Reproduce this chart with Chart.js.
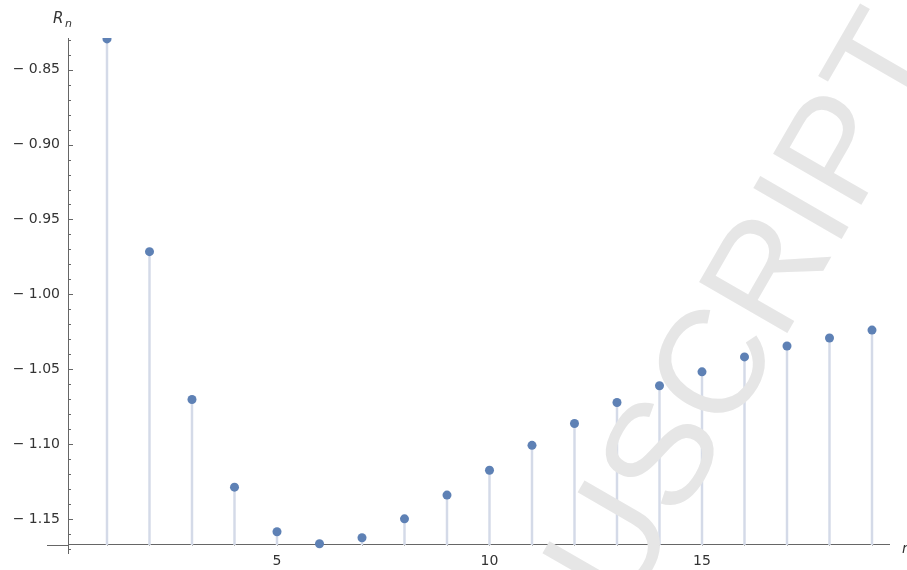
<!DOCTYPE html>
<html>
<head>
<meta charset="utf-8">
<script src="https://cdn.jsdelivr.net/npm/chart.js@4.4.0/dist/chart.umd.min.js"></script>
<style>
  html, body { margin: 0; padding: 0; background: #fff; }
  #chartBox { width: 907px; height: 570px; }
</style>
</head>
<body>
<div id="chartBox"><canvas id="myChart" width="907" height="570"></canvas></div>
<script>
// data
var nValues = [1, 2, 3, 4, 5, 6, 7, 8, 9, 10, 11, 12, 13, 14, 15, 16, 17, 18, 19];
var rValues = [-0.8294, -0.9715, -1.0703, -1.1288, -1.1586, -1.1666, -1.1626, -1.1500, -1.1341, -1.1175,
               -1.1009, -1.0863, -1.0723, -1.0611, -1.0518, -1.0418, -1.0345, -1.0292, -1.0239];
var xTicks = [5, 10, 15];
var yTicks = [-1.15, -1.10, -1.05, -1.00, -0.95, -0.90, -0.85];
var axisLevel = -1.1673; // where the n axis crosses

var axisColor = '#666666';
var labelColor = '#333333';
var tickFont = { family: 'DejaVu Sans', size: 14 };

var stemData = nValues.map(function (n, i) { return { x: n, y: [axisLevel, rValues[i]] }; });
var pointData = nValues.map(function (n, i) { return { x: n, y: rValues[i] }; });

// inward ticks, axis stub, axis labels
var axesExtra = {
  id: 'axesExtra',
  beforeDatasetsDraw: function (chart) {
    var ctx = chart.ctx;
    var xs = chart.scales.x, ys = chart.scales.y;
    var y0 = Math.round(ys.getPixelForValue(axisLevel)) + 0.5;
    var x0 = Math.round(xs.left) + 0.5;
    ctx.save();
    ctx.strokeStyle = axisColor;
    ctx.lineWidth = 1;
    ctx.beginPath();
    ctx.moveTo(47, y0);
    ctx.lineTo(x0, y0);
    for (var k = -117; k <= -83; k++) {
      var py = Math.round(ys.getPixelForValue(k / 100)) + 0.5;
      var len = (k % 5 === 0) ? 4.5 : 2.5;
      ctx.moveTo(x0, py);
      ctx.lineTo(x0 + len, py);
    }
    for (var n = 1; n <= 19; n++) {
      var px = Math.round(xs.getPixelForValue(n)) + 0.5;
      var l2 = (n % 5 === 0) ? 5 : 3;
      ctx.moveTo(px, y0);
      ctx.lineTo(px, y0 - l2);
    }
    ctx.stroke();

    ctx.fillStyle = labelColor;
    ctx.textBaseline = 'alphabetic';
    ctx.textAlign = 'left';
    ctx.font = 'italic 15px "DejaVu Sans"';
    ctx.fillText('R', 53, 23);
    ctx.font = 'italic 11px "DejaVu Sans"';
    ctx.fillText('n', 65, 27);
    ctx.font = 'italic 14px "DejaVu Sans"';
    ctx.fillText('n', 902, 553);
    ctx.restore();
  },
  afterDatasetDraw: function (chart, args) {
    if (args.index !== 0) return;
    // watermark sits over the stems and axes, under the points
    var ctx = chart.ctx;
    var fs = 148;
    var text = 'ACCEPTED MANUSCRIPT';
    ctx.save();
    ctx.font = fs + 'px "Liberation Sans"';
    var wPrefix = ctx.measureText('ACCEPTED MANUSCR').width;
    ctx.translate(845, 233);
    ctx.rotate(-60 * Math.PI / 180);
    ctx.fillStyle = '#e6e6e6';
    ctx.textAlign = 'left';
    ctx.textBaseline = 'alphabetic';
    ctx.fillText(text, -(wPrefix + 0.139 * fs), 0);
    ctx.restore();
  }
};

var config = {
  type: 'scatter',
  data: {
    datasets: [
      {
        type: 'bar',
        label: 'stems',
        data: stemData,
        backgroundColor: '#d4dae8',
        borderWidth: 0,
        barThickness: 1.8,
        grouped: false,
        order: 2
      },
      {
        type: 'scatter',
        label: 'R_n',
        data: pointData,
        backgroundColor: '#5e81b5',
        borderWidth: 0,
        pointRadius: 4.5,
        pointHoverRadius: 4.5,
        order: 1
      }
    ]
  },
  options: {
    responsive: false,
    animation: false,
    events: [],
    layout: { padding: { top: 38, right: 18, bottom: 13, left: 0 } },
    plugins: {
      legend: { display: false },
      tooltip: { enabled: false },
      title: { display: false }
    },
    scales: {
      x: {
        type: 'linear',
        min: 0.0824,
        max: 19.4,
        offset: false,
        position: { y: axisLevel },
        grid: { display: false, drawTicks: false },
        border: { display: true, color: axisColor, width: 1 },
        ticks: { font: tickFont, color: labelColor, padding: 8, maxRotation: 0, autoSkip: false },
        afterBuildTicks: function (s) { s.ticks = xTicks.map(function (v) { return { value: v }; }); }
      },
      y: {
        type: 'linear',
        position: 'left',
        min: -1.1732,
        max: -0.8288,
        grid: { display: false, drawTicks: false },
        border: { display: true, color: axisColor, width: 1 },
        ticks: {
          font: tickFont,
          color: labelColor,
          padding: 8,
          callback: function (v) { return '\u2212 ' + Math.abs(v).toFixed(2); }
        },
        afterBuildTicks: function (s) { s.ticks = yTicks.map(function (v) { return { value: v }; }); },
        afterFit: function (s) { s.width = 68; }
      }
    }
  },
  plugins: [axesExtra]
};

var chartInstance = new Chart(document.getElementById('myChart'), config);
</script>
</body>
</html>
